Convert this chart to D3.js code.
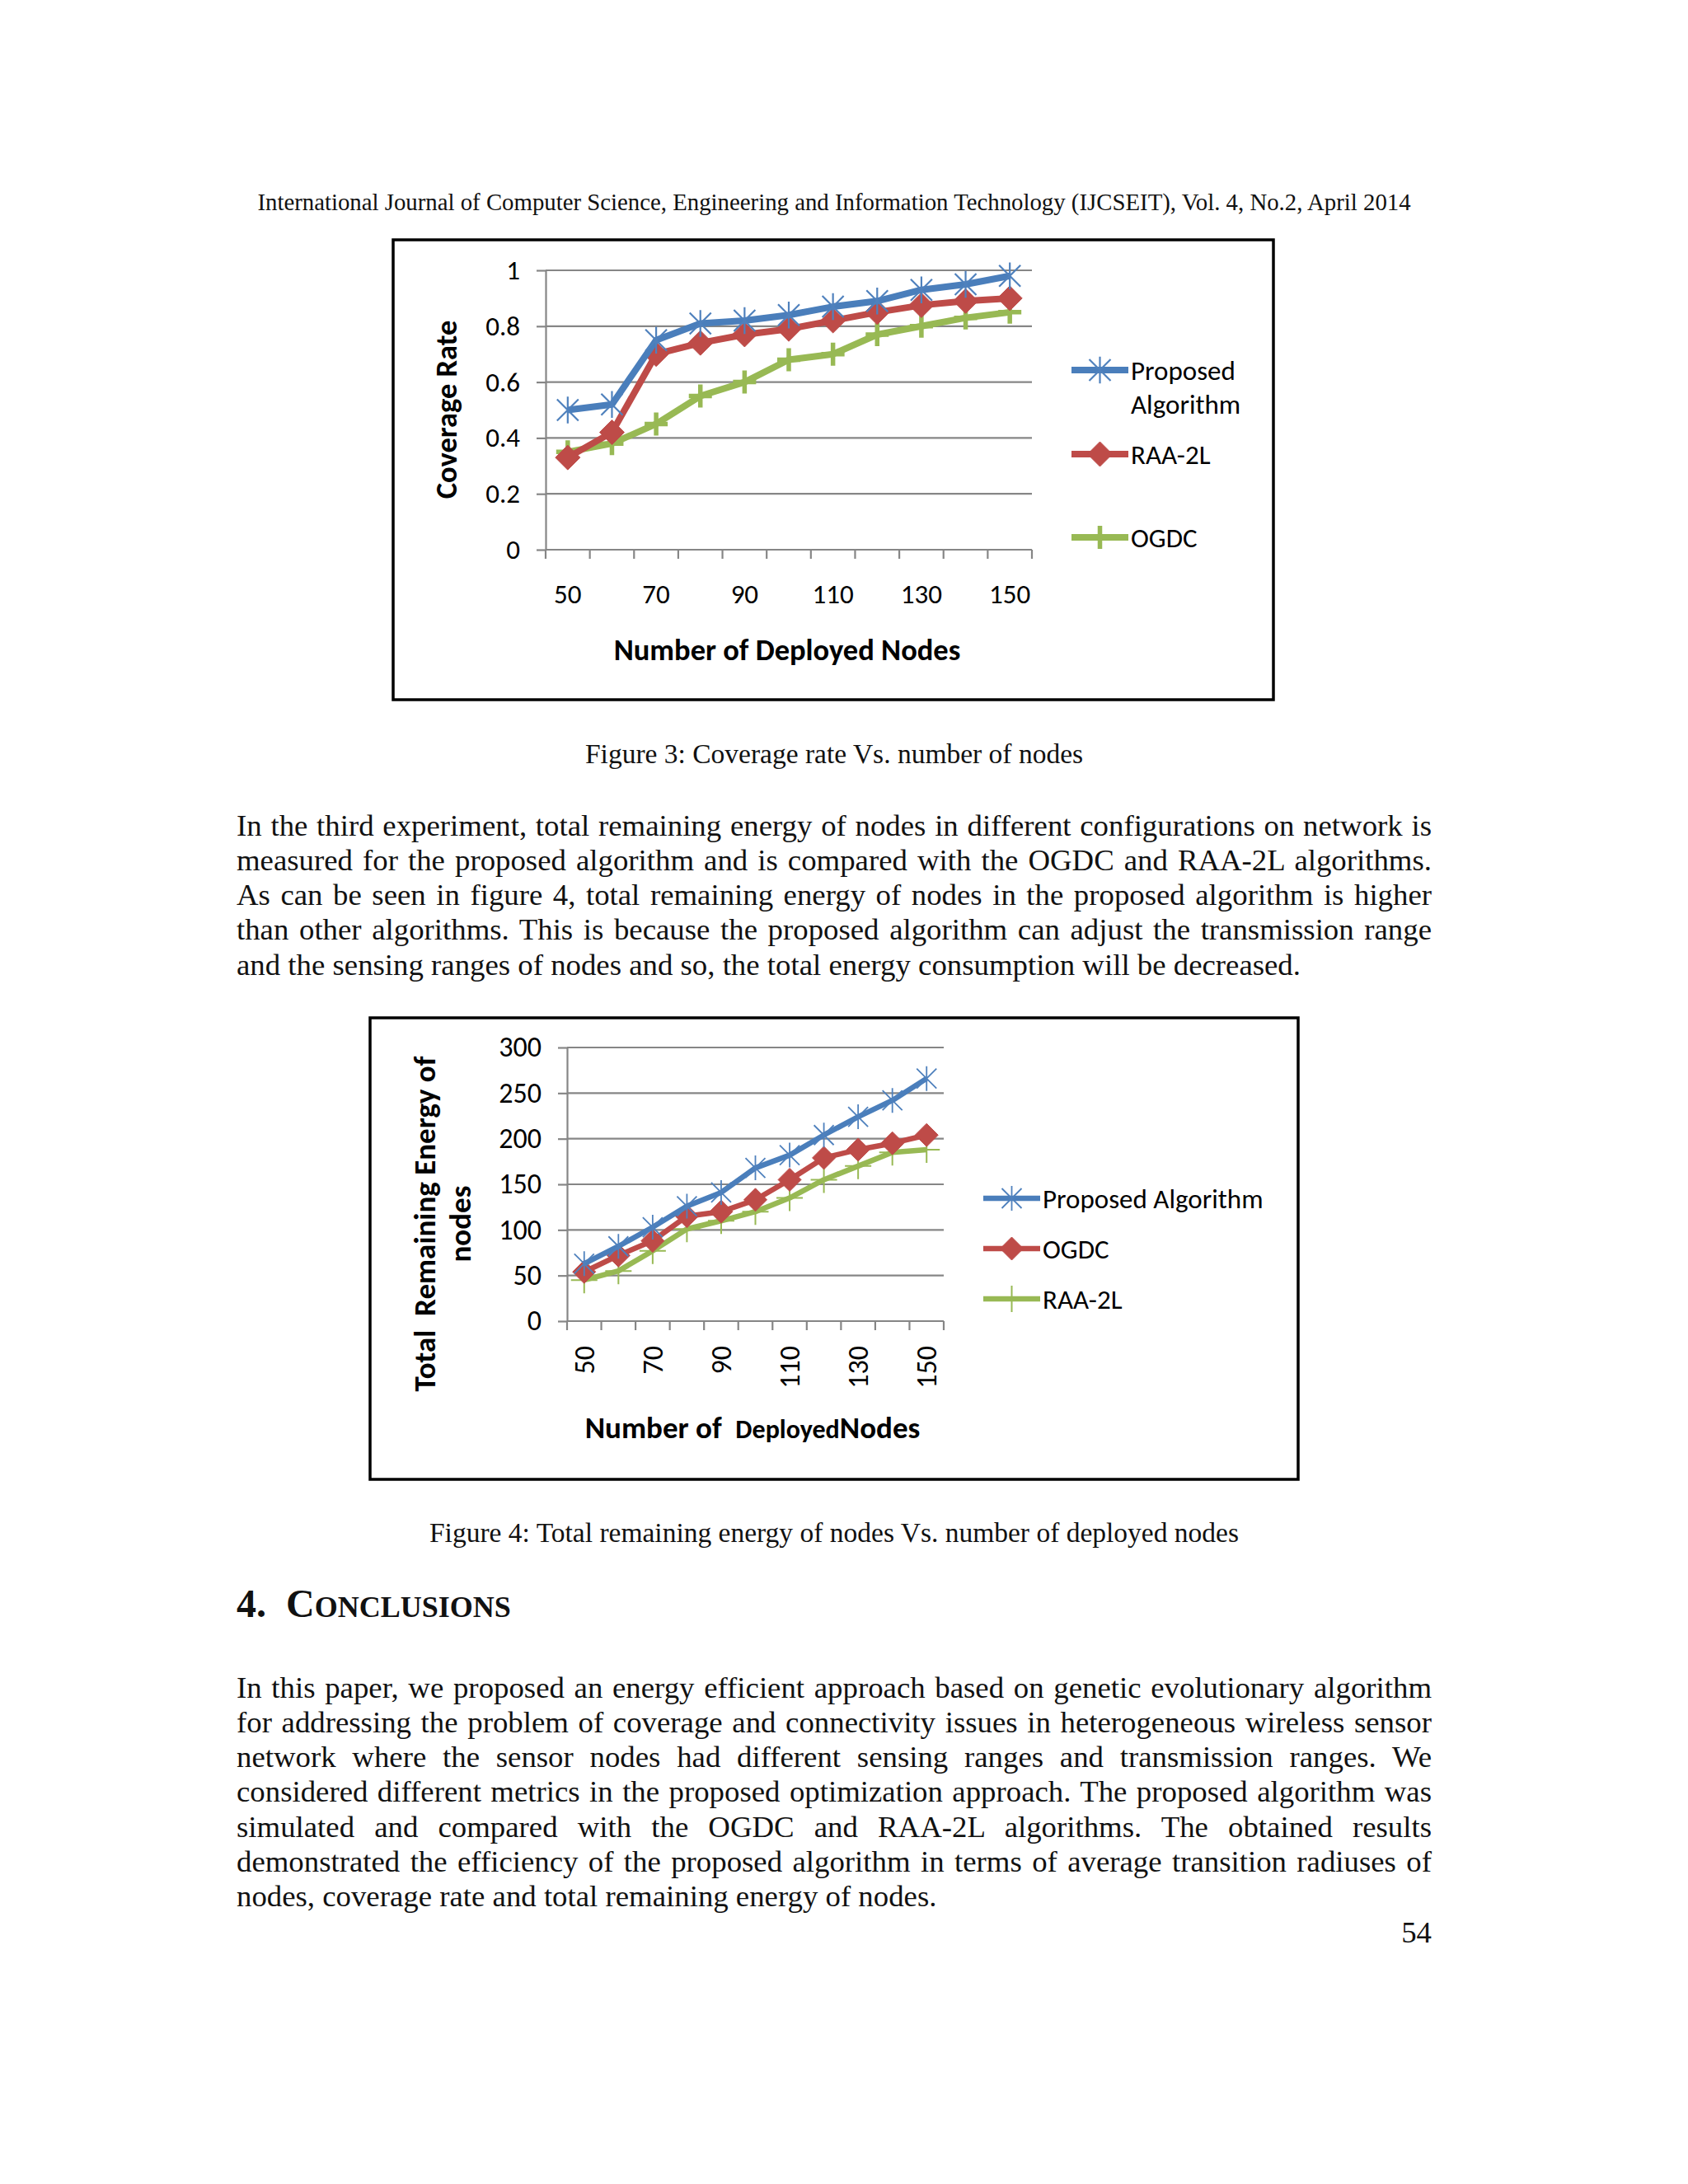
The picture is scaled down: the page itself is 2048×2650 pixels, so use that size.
<!DOCTYPE html>
<html>
<head>
<meta charset="utf-8">
<script src="https://cdn.jsdelivr.net/npm/d3@7"></script>
<style>
body{margin:0;background:#fff;}
#page{position:relative;width:2048px;height:2650px;overflow:hidden;background:#fff;}
.t{position:absolute;white-space:nowrap;font-family:"Liberation Serif","Times New Roman",serif;color:#111;}
.j{text-align:justify;text-align-last:justify;white-space:normal;}
svg{position:absolute;left:0;top:0;}
</style>
</head>
<body>
<div id="page"></div>
<script>
// ---- data ----
const nodes = [50, 60, 70, 80, 90, 100, 110, 120, 130, 140, 150];

// figure 3: coverage rate
const covProposed = [0.50, 0.52, 0.75, 0.81, 0.82, 0.84, 0.87, 0.89, 0.93, 0.95, 0.98];
const covRAA = [0.33, 0.42, 0.70, 0.74, 0.77, 0.79, 0.82, 0.85, 0.875, 0.89, 0.90];
const covOGDC = [0.35, 0.38, 0.45, 0.55, 0.60, 0.68, 0.70, 0.77, 0.80, 0.83, 0.85];
const covTicks = [0, 0.2, 0.4, 0.6, 0.8, 1];

// figure 4: total remaining energy
const enProposed = [63, 82, 103, 126, 141, 168, 182, 204, 224, 242, 266];
const enOGDC = [54, 72, 88, 115, 120, 133, 155, 179, 188, 195, 204];
const enRAA = [45, 55, 77, 101, 110, 120, 135, 155, 170, 185, 188];
const enTicks = [0, 50, 100, 150, 200, 250, 300];

const xLabels = [50, 70, 90, 110, 130, 150];

const colors = {blue: "#4A7EBB", red: "#BE4B48", green: "#98B954"};

// ---- page text ----
const page = d3.select("#page");

function txt(s, o){
	// o: x, base (baseline y), fs, anchor, width, cls
	let fs = o.fs;
	let d = page.append("div").attr("class", "t " + (o.cls||""))
		.style("font-size", fs+"px")
		.style("line-height", (fs*1.15)+"px")
		.style("top", (o.base - 0.9125*fs)+"px")
		.text(s);
	if(o.width){
		d.style("left", o.x+"px").style("width", o.width+"px");
	}else if(o.anchor=="middle"){
		d.style("left", (o.x-1000)+"px").style("width", "2000px").style("text-align","center");
	}else if(o.anchor=="end"){
		d.style("left", (o.x-1000)+"px").style("width", "1000px").style("text-align","right");
	}else{
		d.style("left", o.x+"px");
	}
	if(o.weight) d.style("font-weight", o.weight);
	return d;
}

const bodyFs = 36.8, capFs = 33.5, leftX = 287, colW = 1450;

txt("International Journal of Computer Science, Engineering and Information Technology (IJCSEIT), Vol. 4, No.2, April 2014",
	{x:1012, base:249+0.23*28.8, fs:28.8, anchor:"middle"});
txt("Figure 3: Coverage rate Vs. number of nodes", {x:1012, base:919+0.23*capFs, fs:capFs, anchor:"middle"});
txt("Figure 4: Total remaining energy of nodes Vs. number of deployed nodes", {x:1012, base:1864+0.23*capFs, fs:capFs, anchor:"middle"});

const para1 = [
	"In the third experiment, total remaining energy of nodes in different configurations on network is",
	"measured for the proposed algorithm and is compared with the OGDC and RAA-2L algorithms.",
	"As can be seen in figure 4, total remaining energy of nodes in the proposed algorithm is higher",
	"than other algorithms. This is because the proposed algorithm can adjust the transmission range",
	"and the sensing ranges of nodes and so, the total energy consumption will be decreased."
];
const para2 = [
	"In this paper, we proposed an energy efficient approach based on genetic evolutionary algorithm",
	"for addressing the problem of coverage and connectivity issues in heterogeneous wireless sensor",
	"network where the sensor nodes had different sensing ranges and transmission ranges. We",
	"considered different metrics in the proposed optimization approach. The proposed algorithm was",
	"simulated and compared with the OGDC and RAA-2L algorithms. The obtained results",
	"demonstrated the efficiency of the proposed algorithm in terms of average transition radiuses of",
	"nodes, coverage rate and total remaining energy of nodes."
];
function para(lines, y0){
	lines.forEach(function(l, i){
		let last = i==lines.length-1;
		txt(l, {x:leftX, base:y0 + i*42.2 + 0.23*bodyFs, fs:bodyFs, width: last ? null : colW, cls: last ? "" : "j"});
	});
}
para(para1, 1006);
para(para2, 2052);

// section heading, small caps built by hand
let h = txt("", {x:leftX, base:1962, fs:48, weight:"bold"});
h.style("white-space", "pre");
h.append("span").text("4.  C");
h.append("span").style("font-size", "36px").text("ONCLUSIONS");
txt("54", {x:1737, base:2349+0.23*bodyFs, fs:bodyFs, anchor:"end"});

// ---- charts ----
const svg = page.append("svg").attr("width", 2048).attr("height", 2650);
const chartFont = "Carlito, Calibri, Lato, sans-serif";

function marker(type, s){
	if(type=="star") return `M${-s},${-s}L${s},${s}M${-s},${s}L${s},${-s}M0,${-s*1.25}V${s*1.25}`;
	if(type=="diamond") return `M0,${-s}L${s},0L0,${s}L${-s},0Z`;
	return `M${-s},0H${s}M0,${-s}V${s}`;
}

function drawMarker(g, t, cx, cy, color, c){
	if(t=="diamond"){
		g.append("path").attr("d", marker(t, c.diamondSize)).attr("transform", `translate(${cx},${cy})`)
			.attr("fill", color).attr("stroke", color).attr("stroke-width", 1);
	}else if(t=="star"){
		g.append("path").attr("d", marker(t, c.starSize)).attr("transform", `translate(${cx},${cy})`)
			.attr("fill", "none").attr("stroke", "#4F81BD").attr("stroke-width", c.starWidth);
	}else{
		g.append("path").attr("d", marker(t, c.plusSize)).attr("transform", `translate(${cx},${cy})`)
			.attr("fill", "none").attr("stroke", color).attr("stroke-width", c.plusWidth);
	}
}

function drawChart(c){
	let g = svg.append("g").style("font-family", chartFont);

	g.append("rect").attr("x", c.box[0]).attr("y", c.box[1]).attr("width", c.box[2]-c.box[0]).attr("height", c.box[3]-c.box[1])
		.attr("fill", "#fff").attr("stroke", "#000").attr("stroke-width", 3.5);

	let x = d3.scaleBand().domain(nodes).range([c.x0, c.x1]);
	let y = d3.scaleLinear().domain([0, c.ticks[c.ticks.length-1]]).range([c.yb, c.yt]);
	let bw = x.bandwidth();

	// grid
	g.selectAll("line.grid").data(c.ticks.filter(d=>d>0)).join("line").attr("class","grid")
		.attr("x1", c.x0).attr("x2", c.x1).attr("y1", d=>y(d)).attr("y2", d=>y(d))
		.attr("stroke", "#868686").attr("stroke-width", 2.2);

	// y axis
	let ya = g.append("g").attr("transform", `translate(${c.x0},0)`)
		.call(d3.axisLeft(y).tickValues(c.ticks).tickSize(11).tickSizeOuter(0).tickPadding(20).tickFormat(c.fmt));
	ya.select(".domain").attr("stroke", "#868686").attr("stroke-width", 2.2);
	ya.selectAll(".tick line").attr("stroke", "#868686").attr("stroke-width", 2.2);
	ya.selectAll(".tick text").attr("font-size", c.tickFs).attr("fill", "#000").attr("font-family", chartFont);

	// x axis
	g.append("line").attr("x1", c.x0).attr("x2", c.x1).attr("y1", c.yb).attr("y2", c.yb)
		.attr("stroke", "#868686").attr("stroke-width", 2.2);
	g.selectAll("line.xt").data(nodes.map(d=>x(d)).concat([c.x1])).join("line").attr("class","xt")
		.attr("x1", d=>d).attr("x2", d=>d).attr("y1", c.yb).attr("y2", c.yb+11)
		.attr("stroke", "#868686").attr("stroke-width", 2.2);

	if(c.rotateX){
		g.selectAll("text.xl").data(xLabels).join("text").attr("class","xl")
			.attr("transform", d=>`translate(${x(d)+bw/2},${c.xLabelY}) rotate(-90)`)
			.attr("text-anchor", "end").attr("dy", "0.35em").attr("font-size", c.tickFs).text(d=>d);
	}else{
		g.selectAll("text.xl").data(xLabels).join("text").attr("class","xl")
			.attr("x", d=>x(d)+bw/2).attr("y", c.xLabelY)
			.attr("text-anchor", "middle").attr("dy", "0.35em").attr("font-size", c.tickFs).text(d=>d);
	}

	// series
	let line = d3.line().x((d,i)=>x(nodes[i])+bw/2).y(d=>y(d));
	c.series.slice().reverse().forEach(function(s){
		g.append("path").datum(s.values).attr("d", line).attr("fill", "none")
			.attr("stroke", s.color).attr("stroke-width", c.lineWidth).attr("stroke-linejoin", "round");
		s.values.forEach(function(v, i){
			drawMarker(g, s.marker, x(nodes[i])+bw/2, y(v), s.color, c);
		});
	});

	// legend
	c.series.forEach(function(s, i){
		let ly = c.legend.y[i];
		g.append("line").attr("x1", c.legend.x0).attr("x2", c.legend.x1).attr("y1", ly).attr("y2", ly)
			.attr("stroke", s.color).attr("stroke-width", c.lineWidth);
		drawMarker(g, s.marker, (c.legend.x0+c.legend.x1)/2, ly, s.color, c);
		let t = g.append("text").attr("x", c.legend.tx).attr("y", ly)
			.attr("font-size", c.legendFs);
		s.label.forEach(function(l, k){
			t.append("tspan").attr("x", c.legend.tx).attr("dy", k==0 ? "0.35em" : c.legend.lh).text(l);
		});
	});

	// axis titles
	let yt = g.append("text").attr("transform", `translate(${c.yTitle.x},${c.yTitle.y}) rotate(-90)`)
		.attr("text-anchor", "middle").attr("font-weight", "bold").attr("font-size", c.titleFs);
	c.yTitle.lines.forEach(function(l, k){
		yt.append("tspan").attr("x", 0).attr("dy", k==0 ? "0.35em" : c.yTitle.lh).attr("xml:space","preserve").text(l);
	});
	let xt = g.append("text").attr("x", c.xTitle.x).attr("y", c.xTitle.y).attr("dy", "0.35em")
		.attr("text-anchor", "middle").attr("font-weight", "bold").attr("font-size", c.titleFs);
	c.xTitle.parts.forEach(function(p){
		xt.append("tspan").attr("font-size", p[1]).attr("xml:space","preserve").text(p[0]);
	});
}

drawChart({
	box: [477, 291, 1545, 849],
	x0: 662, x1: 1252, yb: 667, yt: 328,
	ticks: covTicks, fmt: d=>d3.format("")(+d.toFixed(1)),
	tickFs: 33, legendFs: 33, titleFs: 36.5,
	xLabelY: 720,
	lineWidth: 8, starSize: 13, starWidth: 2.2, diamondSize: 15, plusSize: 14, plusWidth: 5.5,
	series: [
		{label: ["Proposed", "Algorithm"], values: covProposed, color: colors.blue, marker: "star"},
		{label: ["RAA-2L"], values: covRAA, color: colors.red, marker: "diamond"},
		{label: ["OGDC"], values: covOGDC, color: colors.green, marker: "plus"}
	],
	legend: {x0: 1300, x1: 1369, tx: 1372, y: [449, 551, 652], lh: 41},
	yTitle: {x: 541, y: 497, lines: ["Coverage Rate"], lh: 0},
	xTitle: {x: 955, y: 788, parts: [["Number of Deployed Nodes", 36.5]]}
});

drawChart({
	box: [449, 1235, 1575, 1795],
	x0: 688, x1: 1145, yb: 1603, yt: 1271,
	ticks: enTicks, fmt: d=>d,
	tickFs: 34, legendFs: 33, titleFs: 37,
	xLabelY: 1633, rotateX: true,
	lineWidth: 6.5, starSize: 12, starWidth: 1.8, diamondSize: 14, plusSize: 16, plusWidth: 2,
	series: [
		{label: ["Proposed Algorithm"], values: enProposed, color: colors.blue, marker: "star"},
		{label: ["OGDC"], values: enOGDC, color: colors.red, marker: "diamond"},
		{label: ["RAA-2L"], values: enRAA, color: colors.green, marker: "plus"}
	],
	legend: {x0: 1193, x1: 1262, tx: 1265, y: [1454, 1515, 1576], lh: 0},
	yTitle: {x: 515, y: 1485, lines: ["Total  Remaining Energy of", "nodes"], lh: "1.17em"},
	xTitle: {x: 913, y: 1732, parts: [["Number of  ", 37], ["Deployed", 32], ["Nodes", 37]]}
});
</script>
</body>
</html>
